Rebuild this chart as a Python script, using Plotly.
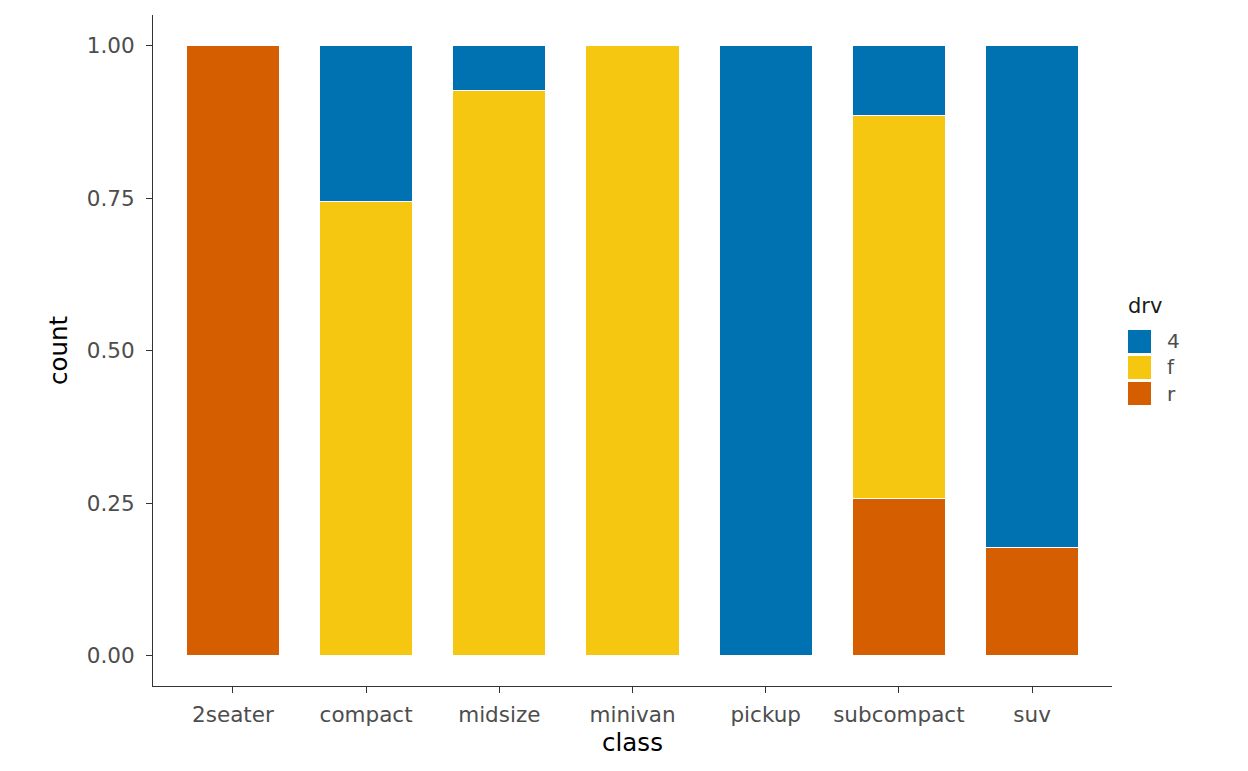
import plotly.graph_objects as go

classes = ["2seater", "compact", "midsize", "minivan", "pickup", "subcompact", "suv"]
# share of each drive type within a class (position = "fill")
prop_r = [1.0, 0.0, 0.0, 0.0, 0.0, 0.257, 0.177]
prop_f = [0.0, 0.745, 0.927, 1.0, 0.0, 0.629, 0.0]
prop_4 = [0.0, 0.255, 0.073, 0.0, 1.0, 0.114, 0.823]

drv_levels = ["4", "f", "r"]
y_ticks = [0, 0.25, 0.5, 0.75, 1.0]
y_labels = ["0.00", "0.25", "0.50", "0.75", "1.00"]

cols = {"4": "#0072B2", "f": "#F5C710", "r": "#D55E00"}
font = "DejaVu Sans"

# page has an 8px body margin, so the plot box is laid out from there
W, H = 1248, 771
L, R, T, B = 145, 144, 7, 93
pw, ph = W - L - R, H - T - B

def px(x):
  return (x - 8 - L) / pw

def py(y):
  return 1 - (y - 8 - T) / ph

fig = go.Figure()
for name, vals in [("r", prop_r), ("f", prop_f), ("4", prop_4)]:
  fig.add_trace(go.Bar(
      x=classes, y=vals, name=name, width=0.7, showlegend=False,
      marker=dict(color=cols[name], line=dict(color="white", width=1)),
  ))

# legend drawn by hand so the keys get the ggplot size
shapes, annotations = [], []
annotations.append(dict(
    xref="paper", yref="paper", x=px(1126), y=py(306), xanchor="left", yanchor="middle",
    text="drv", showarrow=False, font=dict(size=21, color="#1a1a1a"),
))
for i, lv in enumerate(drv_levels):
  top = 330 + i * 26
  shapes.append(dict(
      type="rect", xref="paper", yref="paper",
      x0=px(1128), x1=px(1151), y0=py(top + 23), y1=py(top),
      fillcolor=cols[lv], line=dict(width=0),
  ))
  annotations.append(dict(
      xref="paper", yref="paper", x=px(1165), y=py(top + 11.5),
      xanchor="left", yanchor="middle", text=lv, showarrow=False,
      font=dict(size=20, color="#4d4d4d"),
  ))

fig.update_layout(
    barmode="stack",
    width=W, height=H,
    plot_bgcolor="white", paper_bgcolor="white",
    margin=dict(l=L, r=R, t=T, b=B),
    font=dict(family=font, color="#4d4d4d", size=20),
    shapes=shapes,
    annotations=annotations,
    showlegend=False,
)
fig.update_xaxes(
    title=dict(text="class", font=dict(size=24.5, color="black"), standoff=8),
    range=[-0.6, 6.6],
    showline=True, linecolor="#333333", linewidth=1,
    ticks="outside", ticklen=6, tickcolor="#333333",
    tickfont=dict(size=21.5, color="#4d4d4d"),
    ticklabelstandoff=3,
    showgrid=False, zeroline=False,
)
fig.update_yaxes(
    title=dict(text="count", font=dict(size=24.5, color="black"), standoff=12),
    range=[-0.05, 1.05],
    tickvals=y_ticks, ticktext=y_labels,
    showline=True, linecolor="#333333", linewidth=1,
    ticks="outside", ticklen=6, tickcolor="#333333",
    tickfont=dict(size=21.5, color="#4d4d4d"),
    ticklabelstandoff=7,
    showgrid=False, zeroline=False,
)

fig.write_html("out.html")
